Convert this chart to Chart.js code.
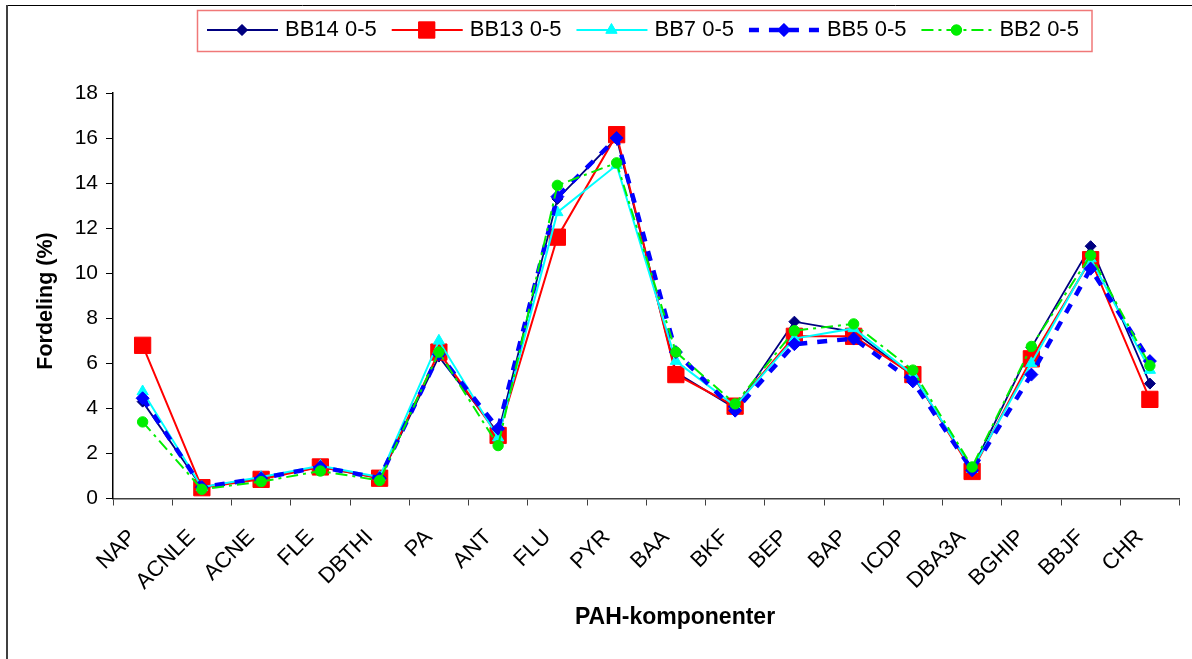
<!DOCTYPE html>
<html>
<head>
<meta charset="utf-8">
<script src="https://cdn.jsdelivr.net/npm/chart.js@4"></script>
<style>
  html, body { margin: 0; padding: 0; background: #fff; }
  #wrap { width: 1192px; height: 659px; position: relative; }
</style>
</head>
<body>
<div id="wrap"><canvas id="c" width="1192" height="659"></canvas></div>
<script>
// PAH components on the category axis
const categories = ['NAP', 'ACNLE', 'ACNE', 'FLE', 'DBTHI', 'PA', 'ANT', 'FLU', 'PYR',
  'BAA', 'BKF', 'BEP', 'BAP', 'ICDP', 'DBA3A', 'BGHIP', 'BBJF', 'CHR'];

// Distribution (%) per station, depth 0-5
const bb14 = [4.3, 0.5, 0.9, 1.4, 0.9, 6.3, 2.9, 13.3, 16.0, 5.6, 4.0, 7.85, 7.4, 5.45, 1.3, 6.7, 11.2, 5.1];
const bb13 = [6.8, 0.48, 0.85, 1.4, 0.9, 6.5, 2.8, 11.6, 16.15, 5.5, 4.1, 7.2, 7.2, 5.5, 1.2, 6.2, 10.6, 4.4];
const bb7  = [4.75, 0.5, 0.95, 1.45, 0.95, 7.0, 2.7, 12.7, 14.8, 6.1, 4.1, 7.1, 7.55, 5.5, 1.3, 6.0, 10.65, 5.7];
const bb5  = [4.45, 0.5, 0.9, 1.4, 0.9, 6.4, 3.1, 13.4, 16.0, 6.5, 3.9, 6.85, 7.1, 5.2, 1.25, 5.5, 10.2, 6.1];
const bb2  = [3.4, 0.41, 0.75, 1.22, 0.8, 6.5, 2.35, 13.9, 14.9, 6.5, 4.2, 7.45, 7.75, 5.7, 1.4, 6.75, 10.8, 5.9];

const seriesNames = ['BB14 0-5', 'BB13 0-5', 'BB7 0-5', 'BB5 0-5', 'BB2 0-5'];
const yTicks = [0, 2, 4, 6, 8, 10, 12, 14, 16, 18];
const xTitle = 'PAH-komponenter';
const yTitle = 'Fordeling (%)';

const FONT = 'Arial, "Liberation Sans", sans-serif';

const styles = [
  { color: '#000080', width: 1.8, dash: [], point: 'rectRot', radius: 5.5 },
  { color: '#ff0000', width: 2, dash: [], point: 'rect', radius: 11.5 },
  { color: '#00ffff', width: 2, dash: [], point: 'triangle', radius: 6.5 },
  { color: '#0000ff', width: 4.5, dash: [10, 10], point: 'rectRot', radius: 6.5 },
  { color: '#00ee00', width: 2, dash: [12, 5, 3, 5], point: 'circle', radius: 5.2 }
];
const values = [bb14, bb13, bb7, bb5, bb2];

const datasets = values.map((v, i) => ({
  label: seriesNames[i],
  data: v,
  borderColor: styles[i].color,
  backgroundColor: styles[i].color,
  borderWidth: styles[i].width,
  borderDash: styles[i].dash,
  pointStyle: styles[i].point,
  pointRadius: styles[i].radius,
  pointBorderWidth: 1,
  pointBorderColor: styles[i].color,
  pointBackgroundColor: styles[i].color,
  tension: 0,
  fill: false,
  order: 5 - i
}));

// Outer frame lines, axis titles and the boxed legend with line + marker samples
const frameAndLegend = {
  id: 'frameAndLegend',
  beforeDraw(chart) {
    const ctx = chart.ctx;
    ctx.save();
    ctx.fillStyle = '#fff';
    ctx.fillRect(0, 0, chart.width, chart.height);
    ctx.strokeStyle = '#000';
    ctx.lineWidth = 1;
    ctx.beginPath();
    ctx.moveTo(6, 5.5);
    ctx.lineTo(chart.width, 5.5);
    ctx.stroke();
    ctx.strokeStyle = '#404040';
    ctx.lineWidth = 2;
    ctx.beginPath();
    ctx.moveTo(7, 5);
    ctx.lineTo(7, chart.height);
    ctx.stroke();
    ctx.restore();
  },
  afterDraw(chart) {
    const ctx = chart.ctx;
    ctx.save();

    // axis titles
    ctx.fillStyle = '#000';
    ctx.textAlign = 'center';
    ctx.textBaseline = 'middle';
    ctx.font = 'bold 23px ' + FONT;
    ctx.fillText(xTitle, 675, 618);
    ctx.save();
    ctx.translate(46, 301);
    ctx.rotate(-Math.PI / 2);
    ctx.font = 'bold 21.5px ' + FONT;
    ctx.fillText(yTitle, 0, 0);
    ctx.restore();

    // legend
    ctx.font = '22px ' + FONT;
    ctx.textBaseline = 'middle';
    ctx.textAlign = 'left';
    const yMid = 30;
    let x = 207;
    chart.data.datasets.forEach((ds, i) => {
      const st = styles[i];
      ctx.save();
      ctx.strokeStyle = st.color;
      ctx.lineWidth = st.width;
      ctx.setLineDash(st.dash);
      ctx.beginPath();
      ctx.moveTo(x, yMid);
      ctx.lineTo(x + 71, yMid);
      ctx.stroke();
      ctx.setLineDash([]);
      ctx.fillStyle = st.color;
      ctx.lineWidth = 1;
      Chart.helpers.drawPoint(ctx, { pointStyle: st.point, radius: st.radius, borderWidth: 1 }, x + 35, yMid);
      ctx.fill();
      ctx.restore();
      ctx.fillStyle = '#000';
      ctx.fillText(ds.label, x + 78, yMid);
      x = x + 78 + ctx.measureText(ds.label).width + 15;
    });
    ctx.strokeStyle = '#f07878';
    ctx.lineWidth = 1.5;
    ctx.strokeRect(197.5, 10.5, 1092 - 197.5, 41);
    ctx.restore();
  }
};

new Chart(document.getElementById('c'), {
  type: 'line',
  data: { labels: categories, datasets },
  plugins: [frameAndLegend],
  options: {
    responsive: false,
    animation: false,
    devicePixelRatio: 1,
    layout: { padding: { top: 93, right: 12, left: 0, bottom: 0 } },
    plugins: { legend: { display: false }, tooltip: { enabled: false } },
    elements: { line: { tension: 0 } },
    scales: {
      x: {
        type: 'category',
        offset: true,
        grid: { offset: true, drawOnChartArea: false, drawTicks: true, tickLength: 7, color: '#404040', lineWidth: 1 },
        border: { color: '#404040', width: 1.5 },
        ticks: { font: { family: FONT, size: 22 }, color: '#000', maxRotation: 45, minRotation: 45,
                 padding: 19, labelOffset: -10, autoSkip: false },
        afterFit(s) { s.height = 160.5; }
      },
      y: {
        min: 0, max: 18,
        afterBuildTicks(s) { s.ticks = yTicks.map(v => ({ value: v })); },
        ticks: { font: { family: FONT, size: 21 }, color: '#000', padding: 8 },
        grid: { drawOnChartArea: false, drawTicks: true, tickLength: 7, color: '#000' },
        border: { color: '#000', width: 1.5 },
        afterFit(s) { s.width = 113; }
      }
    }
  }
});
</script>
</body>
</html>
